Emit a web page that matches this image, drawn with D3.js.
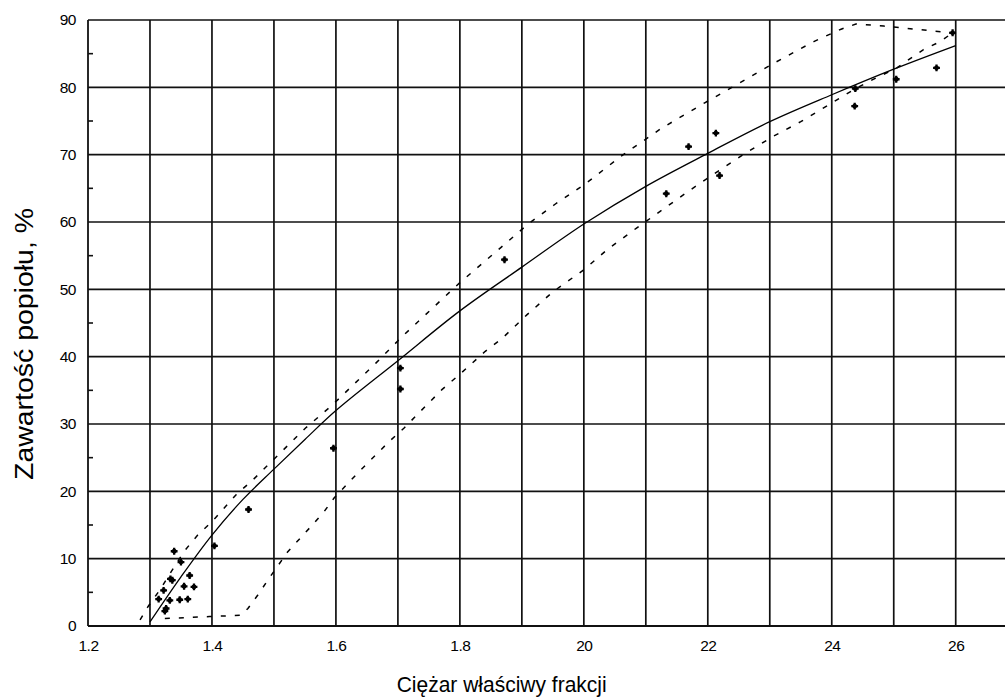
<!DOCTYPE html>
<html>
<head>
<meta charset="utf-8">
<script src="https://cdn.jsdelivr.net/npm/d3@7"></script>
<style>
  html, body { margin: 0; padding: 0; background: #fff; }
  svg { display: block; }
  text { font-family: "Liberation Sans", Arial, sans-serif; fill: #000; }
</style>
</head>
<body>
<svg id="chart" width="1005" height="699"></svg>
<script>
// ---- data ----
const xTicks = [1.2, 1.4, 1.6, 1.8, 2.0, 2.2, 2.4, 2.6];
const xTickLabels = ["1.2", "1.4", "1.6", "1.8", "20", "22", "24", "26"];
const xGridValues = [1.3, 1.4, 1.5, 1.6, 1.7, 1.8, 1.9, 2.0, 2.1, 2.2, 2.3, 2.4, 2.5, 2.6];
const yTicks = [0, 10, 20, 30, 40, 50, 60, 70, 80, 90];
const yMinorTicks = [5, 15, 25, 35, 45, 55, 65, 75, 85];
const xTitle = "Ciężar właściwy frakcji";
const yTitle = "Zawartość popiołu, %";

// measured points
const pointX = [1.314, 1.322, 1.324, 1.326, 1.332, 1.333, 1.336, 1.339, 1.348, 1.350, 1.355, 1.361, 1.364, 1.371, 1.404, 1.459, 1.596, 1.704, 1.704, 1.872, 2.133, 2.169, 2.213, 2.219, 2.437, 2.438, 2.504, 2.569, 2.595];
const pointY = [4.0, 5.3, 2.2, 2.6, 3.8, 7.0, 6.8, 11.1, 3.9, 9.5, 5.9, 4.0, 7.5, 5.8, 11.9, 17.3, 26.4, 38.3, 35.2, 54.4, 64.2, 71.2, 73.2, 66.9, 77.2, 79.8, 81.2, 82.9, 88.1];

// fitted curve
const fitX = [1.30, 1.35, 1.40, 1.45, 1.50, 1.55, 1.60, 1.70, 1.80, 1.90, 2.00, 2.10, 2.20, 2.30, 2.40, 2.50, 2.60];
const fitY = [0.6, 7.3, 13.5, 18.8, 23.3, 27.7, 32.0, 39.4, 46.8, 53.3, 59.7, 65.3, 70.2, 74.9, 78.9, 82.7, 86.2];

// upper envelope (dashed)
const upX = [1.284, 1.297, 1.317, 1.329, 1.356, 1.377, 1.400, 1.439, 1.466, 1.551, 1.594, 1.664, 1.707, 1.800, 1.866, 1.910, 1.953, 2.000, 2.062, 2.125, 2.195, 2.243, 2.307, 2.371, 2.414, 2.439, 2.484, 2.549, 2.595];
const upY = [0.9, 2.9, 5.5, 7.3, 11.2, 13.5, 15.5, 19.5, 21.7, 29.4, 32.8, 39.0, 43.0, 51.0, 56.2, 59.7, 62.6, 65.5, 69.9, 73.9, 77.7, 80.2, 83.6, 86.8, 88.6, 89.4, 89.1, 88.5, 88.1];

// lower envelope (dashed)
const loX = [1.324, 1.396, 1.447, 1.458, 1.474, 1.490, 1.506, 1.522, 1.560, 1.581, 1.597, 1.637, 1.686, 1.710, 1.728, 1.771, 1.795, 1.817, 1.841, 1.868, 1.908, 1.951, 2.000, 2.039, 2.085, 2.128, 2.174, 2.219, 2.264, 2.305, 2.350, 2.395, 2.438, 2.463, 2.505, 2.548, 2.575, 2.595];
const loY = [1.1, 1.4, 1.6, 2.6, 4.6, 6.8, 8.9, 11.0, 14.8, 17.0, 19.0, 22.9, 27.4, 29.4, 31.1, 35.1, 37.0, 38.8, 40.8, 42.7, 46.2, 49.7, 52.9, 56.0, 59.1, 61.9, 64.9, 67.7, 70.4, 72.7, 74.9, 77.4, 79.8, 81.0, 82.9, 85.6, 86.8, 88.1];

// ---- layout ----
const svg = d3.select("#chart");
const x = d3.scaleLinear().domain([1.2, 2.7]).range([88, 1017.7]);
const y = d3.scaleLinear().domain([0, 90]).range([626, 20]);
const gridColor = "#111";

// grid lines
const grid = svg.append("g");
grid.selectAll("line.v").data(xGridValues).join("line")
  .attr("x1", d => x(d)).attr("x2", d => x(d))
  .attr("y1", y(90)).attr("y2", y(0))
  .attr("stroke", gridColor).attr("stroke-width", 1.7);
grid.selectAll("line.h").data(yTicks.slice(1)).join("line")
  .attr("x1", x(1.2)).attr("x2", x(2.7))
  .attr("y1", d => y(d)).attr("y2", d => y(d))
  .attr("stroke", gridColor).attr("stroke-width", 1.7);

// axes frame
grid.append("line").attr("x1", x(1.2)).attr("x2", x(1.2)).attr("y1", y(90)).attr("y2", y(0))
  .attr("stroke", gridColor).attr("stroke-width", 1.8);
grid.append("line").attr("x1", x(1.2)).attr("x2", x(2.7)).attr("y1", y(0)).attr("y2", y(0))
  .attr("stroke", gridColor).attr("stroke-width", 1.8);

// minor ticks on y axis
grid.selectAll("line.m").data(yMinorTicks).join("line")
  .attr("x1", x(1.2)).attr("x2", x(1.2) + 5)
  .attr("y1", d => y(d)).attr("y2", d => y(d))
  .attr("stroke", gridColor).attr("stroke-width", 1.6);

// x axis labels via axis generator
const xAxis = d3.axisBottom(x).tickValues(xTicks)
  .tickFormat((d, i) => xTickLabels[i]).tickSize(0).tickPadding(14);
const gx = svg.append("g").attr("transform", `translate(0,${y(0)})`).call(xAxis);
gx.select(".domain").remove();
gx.selectAll("text").attr("font-size", 15.5).attr("font-family", "Liberation Sans, Arial, sans-serif").attr("fill", "#000").attr("letter-spacing", -0.5);

const yAxis = d3.axisLeft(y).tickValues(yTicks).tickSize(0).tickPadding(12);
const gy = svg.append("g").attr("transform", `translate(${x(1.2)},0)`).call(yAxis);
gy.select(".domain").remove();
gy.selectAll("text").attr("font-size", 15.5).attr("font-family", "Liberation Sans, Arial, sans-serif").attr("fill", "#000").attr("letter-spacing", -0.5);

// envelope dashed lines
const lineGen = d3.line().x(d => x(d[0])).y(d => y(d[1]));
const upper = upX.map((v, i) => [v, upY[i]]);
const lower = loX.map((v, i) => [v, loY[i]]);
svg.append("path").datum(upper).attr("d", lineGen)
  .attr("fill", "none").attr("stroke", "#000").attr("stroke-width", 1.5)
  .attr("stroke-dasharray", "5,9");
svg.append("path").datum(lower).attr("d", lineGen)
  .attr("fill", "none").attr("stroke", "#000").attr("stroke-width", 1.5)
  .attr("stroke-dasharray", "5,9");

// fitted curve
const fitGen = d3.line().x(d => x(d[0])).y(d => y(d[1])).curve(d3.curveCatmullRom);
svg.append("path").datum(fitX.map((v, i) => [v, fitY[i]])).attr("d", fitGen)
  .attr("fill", "none").attr("stroke", "#000").attr("stroke-width", 1.3);

// points
const pts = pointX.map((v, i) => [v, pointY[i]]);
const pg = svg.append("g");
pg.selectAll("path.c").data(pts).join("path")
  .attr("transform", d => `translate(${x(d[0])},${y(d[1])})`)
  .attr("d", d3.symbol().type(d3.symbolCross).size(26))
  .attr("fill", "#000");
pg.selectAll("circle").data(pts).join("circle")
  .attr("cx", d => x(d[0])).attr("cy", d => y(d[1])).attr("r", 2.4)
  .attr("fill", "#000");

// titles
svg.append("text").attr("x", 501.7).attr("y", 691.5)
  .attr("text-anchor", "middle").attr("font-size", 22)
  .attr("textLength", 210).attr("lengthAdjust", "spacingAndGlyphs")
  .text(xTitle);
svg.append("text").attr("transform", "translate(33,344) rotate(-90)")
  .attr("text-anchor", "middle").attr("font-size", 26)
  .attr("textLength", 272).attr("lengthAdjust", "spacingAndGlyphs")
  .text(yTitle);
</script>
</body>
</html>
